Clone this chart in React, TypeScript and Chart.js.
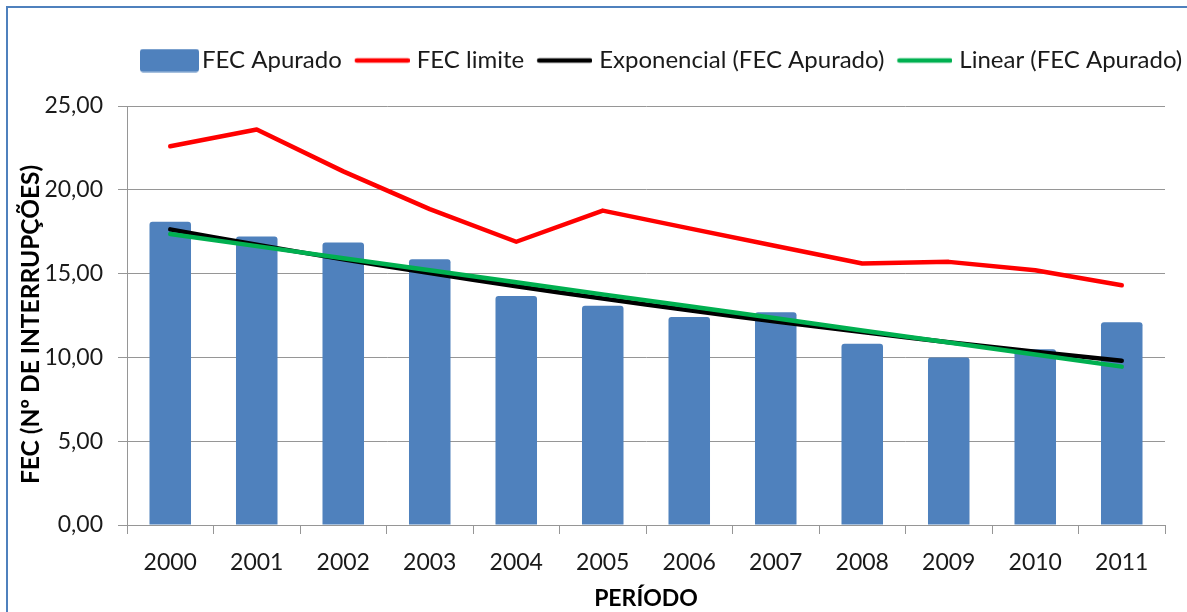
import React, { useEffect, useRef } from 'react';
import { Chart, registerables } from 'chart.js';

Chart.register(...registerables);

const categories = ['2000', '2001', '2002', '2003', '2004', '2005', '2006', '2007', '2008', '2009', '2010', '2011'];
const fecApurado = [18.1, 17.22, 16.86, 15.86, 13.66, 13.08, 12.41, 12.69, 10.82, 10.0, 10.49, 12.1];
const fecLimite = [22.6, 23.6, 21.1, 18.85, 16.9, 18.76, 17.7, 16.65, 15.6, 15.7, 15.2, 14.3];
const exponencial = [17.64, 16.72, 15.85, 15.03, 14.25, 13.51, 12.81, 12.14, 11.51, 10.91, 10.34, 9.8];
const linear = [17.36, 16.64, 15.92, 15.2, 14.48, 13.76, 13.05, 12.33, 11.61, 10.89, 10.17, 9.45];
const seriesNames = ['FEC Apurado', 'FEC limite', 'Exponencial (FEC Apurado)', 'Linear (FEC Apurado)'];
const yMin = 0;
const yMax = 25;
const yStep = 5;
const xTitle = 'PERÍODO';
const yTitle = 'FEC (Nº DE INTERRUPÇÕES)   ';

const FONT = 'Lato';
const BAR_COLOR = '#4F81BD';
const RED = '#FF0000';
const BLACK = '#000000';
const GREEN = '#00B050';
const GRID = '#969696';
const LEGEND_BOX_W = 50;

function makeSymbol(kind: 'box' | 'line', color: string, size: number): HTMLCanvasElement {
  const w = 2 * size - LEGEND_BOX_W;
  const h = 24;
  const c = document.createElement('canvas');
  c.width = w;
  c.height = h;
  const ctx = c.getContext('2d')!;
  const off = w - size;
  if (kind === 'box') {
    ctx.fillStyle = color;
    const r = 3;
    const x = off, y = 0.5, ww = size, hh = 23;
    ctx.beginPath();
    ctx.moveTo(x + r, y);
    ctx.lineTo(x + ww - r, y);
    ctx.quadraticCurveTo(x + ww, y, x + ww, y + r);
    ctx.lineTo(x + ww, y + hh - r);
    ctx.quadraticCurveTo(x + ww, y + hh, x + ww - r, y + hh);
    ctx.lineTo(x + r, y + hh);
    ctx.quadraticCurveTo(x, y + hh, x, y + hh - r);
    ctx.lineTo(x, y + r);
    ctx.quadraticCurveTo(x, y, x + r, y);
    ctx.closePath();
    ctx.fill();
  } else {
    ctx.strokeStyle = color;
    ctx.lineWidth = 4.5;
    ctx.lineCap = 'round';
    ctx.beginPath();
    ctx.moveTo(off + 2, h / 2);
    ctx.lineTo(off + size - 2, h / 2);
    ctx.stroke();
  }
  return c;
}

export default function App() {
  const canvasRef = useRef<HTMLCanvasElement | null>(null);

  useEffect(() => {
    if (!canvasRef.current) return;
    const symbols = [
      makeSymbol('box', BAR_COLOR, 59),
      makeSymbol('line', RED, 55),
      makeSymbol('line', BLACK, 55),
      makeSymbol('line', GREEN, 55),
    ];

    const legendShift = {
      id: 'legendShift',
      afterLayout(chart: any) {
        if (chart.legend) {
          chart.legend.left = chart.chartArea.left;
          chart.legend.right = chart.width + 100;
        }
      },
    };

    const chart = new Chart(canvasRef.current, {
      type: 'bar',
      data: {
        labels: categories,
        datasets: [
          {
            type: 'bar',
            label: seriesNames[0],
            data: fecApurado,
            backgroundColor: BAR_COLOR,
            borderWidth: 0,
            borderRadius: 3,
            categoryPercentage: 1,
            barPercentage: 0.48,
            order: 4,
          },
          {
            type: 'line',
            label: seriesNames[1],
            data: fecLimite,
            borderColor: RED,
            backgroundColor: RED,
            borderWidth: 4.5,
            pointRadius: 0,
            tension: 0,
            borderJoinStyle: 'round',
            borderCapStyle: 'round',
            order: 3,
          },
          {
            type: 'line',
            label: seriesNames[2],
            data: exponencial,
            borderColor: BLACK,
            backgroundColor: BLACK,
            borderWidth: 4.5,
            pointRadius: 0,
            tension: 0.3,
            borderCapStyle: 'round',
            order: 2,
          },
          {
            type: 'line',
            label: seriesNames[3],
            data: linear,
            borderColor: GREEN,
            backgroundColor: GREEN,
            borderWidth: 4.5,
            pointRadius: 0,
            tension: 0,
            borderCapStyle: 'round',
            order: 1,
          },
        ],
      } as any,
      options: {
        responsive: false,
        animation: false,
        events: [],
        layout: { padding: { top: 35.5, left: 0, right: 22, bottom: 0 } },
        plugins: {
          tooltip: { enabled: false },
          title: {
            display: true,
            text: '',
            weight: 500,
            font: { size: 10, lineHeight: 1 },
            padding: { top: 0, bottom: 13.5 },
          } as any,
          legend: {
            display: true,
            position: 'top',
            align: 'start',
            labels: {
              usePointStyle: true,
              pointStyleWidth: LEGEND_BOX_W,
              boxHeight: 23,
              padding: 13,
              color: '#1a1a1a',
              font: { family: FONT, size: 24 },
              sort: (a: any, b: any) => a.datasetIndex - b.datasetIndex,
              generateLabels: (ch: any) => {
                const items = (Chart.defaults.plugins.legend.labels as any).generateLabels(ch);
                items.forEach((it: any) => {
                  it.pointStyle = symbols[it.datasetIndex];
                });
                return items;
              },
            },
          },
        },
        scales: {
          x: {
            offset: true,
            grid: {
              offset: true,
              drawOnChartArea: false,
              drawTicks: true,
              tickLength: 9,
              color: GRID,
            },
            border: { display: true, color: GRID, width: 1 },
            ticks: {
              color: '#1a1a1a',
              font: { family: FONT, size: 23 },
              padding: 15,
              maxRotation: 0,
            },
            title: {
              display: true,
              text: xTitle,
              color: '#000',
              font: { family: FONT, size: 23, weight: 'bold' },
              padding: { top: 0, bottom: 0 },
            },
            afterFit: (s: any) => {
              s.height = 87;
            },
          },
          y: {
            min: yMin,
            max: yMax,
            grid: {
              color: GRID,
              drawTicks: true,
              tickLength: 9,
            },
            border: { display: true, color: GRID, width: 1 },
            ticks: {
              stepSize: yStep,
              color: '#1a1a1a',
              font: { family: FONT, size: 23 },
              padding: 15,
              callback: (v: any) => Number(v).toFixed(2).replace('.', ','),
            },
            title: {
              display: true,
              text: yTitle,
              color: '#000',
              font: { family: FONT, size: 24.5, weight: 'bold' },
              padding: { top: 16, bottom: 0 },
            },
            afterFit: (s: any) => {
              s.width = 127;
            },
          },
        },
      } as any,
      plugins: [legendShift],
    });

    return () => {
      chart.destroy();
    };
  }, []);

  return (
    <>
      <div
        style={{
          position: 'fixed',
          left: 6,
          top: 6,
          right: 0,
          bottom: 0,
          borderLeft: '2px solid #4F81BD',
          borderTop: '2px solid #4F81BD',
          background: '#fff',
        }}
      />
      <canvas
        ref={canvasRef}
        width={1187}
        height={612}
        style={{ position: 'fixed', left: 0, top: 0, width: 1187, height: 612, display: 'block' }}
      />
    </>
  );
}
